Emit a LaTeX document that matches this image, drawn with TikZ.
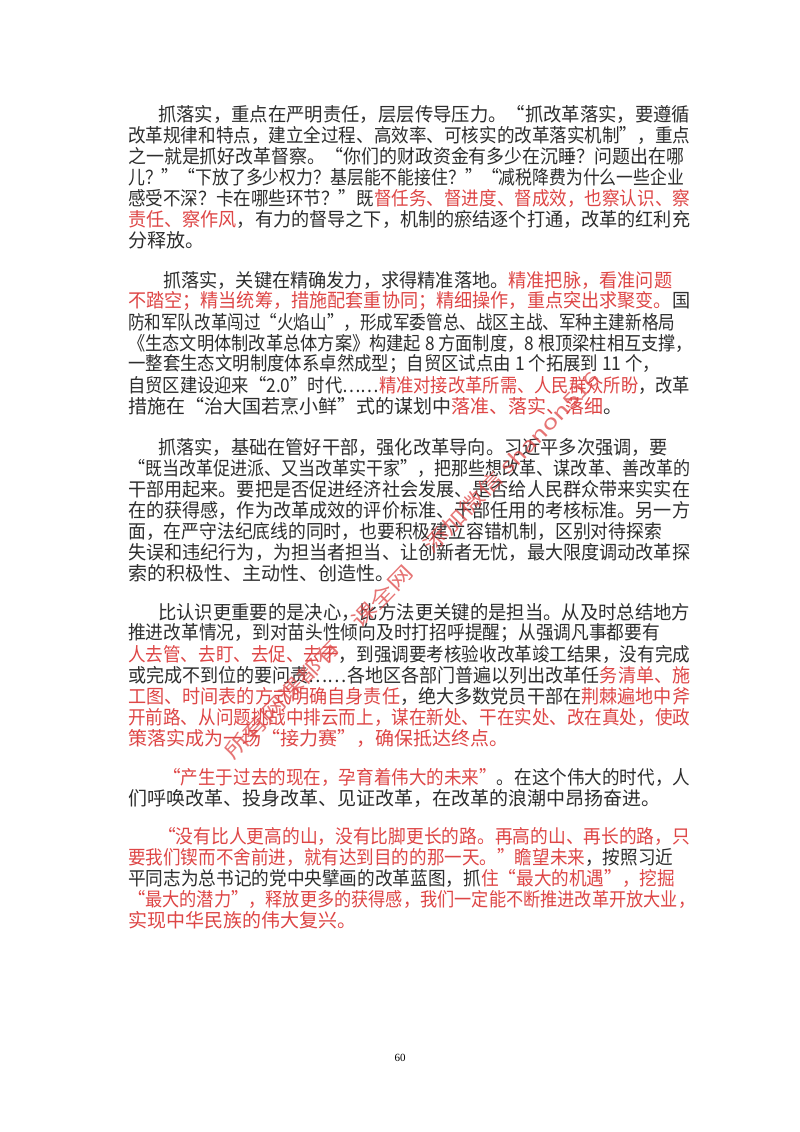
\documentclass[tikz,border=0pt]{standalone}
\usepackage{fontspec}
\usepackage{graphicx}
\setmainfont{Liberation Serif}
\newfontfamily\cjk{Noto Sans CJK SC}
\definecolor{ink}{RGB}{45,45,45}
\definecolor{hl}{RGB}{222,70,70}
\newcommand\rd[1]{\textcolor{hl}{#1}}
% squeeze or stretch one printed line to the width it has on the page
\newcommand\fitto[2]{\resizebox{#1pt}{\height}{#2}}
\tikzset{
  txt/.style={anchor=west,inner sep=0pt,text=ink,font=\cjk\fontsize{19}{19}\selectfont},
  handmark/.style={inner sep=0pt,text=hl,text opacity=0.75,rotate=46,font=\cjk\fontsize{20}{20}\selectfont}
}
\begin{document}
\begin{tikzpicture}[x=1pt,y=-1pt]
  \useasboundingbox[fill=white] (0,0) rectangle (800,1132);
  \def\dy{21}

  % first paragraph
  \node[txt] (a1) at (158,114) {\fitto{532}{抓落实，重点在严明责任，层层传导压力。“抓改革落实，要遵循}};
  \node[txt] (a2) at (128,114+\dy) {\fitto{562}{改革规律和特点，建立全过程、高效率、可核实的改革落实机制”，重点}};
  \node[txt] (a3) at (128,114+2*\dy) {\fitto{556}{之一就是抓好改革督察。“你们的财政资金有多少在沉睡？问题出在哪}};
  \node[txt] (a4) at (128,114+3*\dy) {\fitto{556}{儿？”“下放了多少权力？基层能不能接住？”“减税降费为什么一些企业}};
  \node[txt] (a5) at (128,114+4*\dy) {\fitto{562}{感受不深？卡在哪些环节？”既\rd{督任务、督进度、督成效，也察认识、察}}};
  \node[txt] (a6) at (128,114+5*\dy) {\fitto{562}{\rd{责任、察作风}，有力的督导之下，机制的瘀结逐个打通，改革的红利充}};
  \node[txt] (a7) at (128,114+6*\dy) {分释放。};

  % second paragraph
  \node[txt] (b1) at (163,280) {\fitto{509}{抓落实，关键在精确发力，求得精准落地。\rd{精准把脉，看准问题}}};
  \node[txt] (b2) at (128,280+\dy) {\fitto{562}{\rd{不踏空；精当统筹，措施配套重协同；精细操作，重点突出求聚变。}国}};
  \node[txt] (b3) at (128,280+2*\dy) {\fitto{547}{防和军队改革闯过“火焰山”，形成军委管总、战区主战、军种主建新格局}};
  \node[txt] (b4) at (128,280+3*\dy) {\fitto{565}{《生态文明体制改革总体方案》构建起 8 方面制度，8 根顶梁柱相互支撑，}};
  \node[txt] (b5) at (128,280+4*\dy) {\fitto{532}{一整套生态文明制度体系卓然成型；自贸区试点由 1 个拓展到 11 个，}};
  \node[txt] (b6) at (128,280+5*\dy) {\fitto{562}{自贸区建设迎来“2.0”时代……\rd{精准对接改革所需、人民群众所盼}，改革}};
  \node[txt] (b7) at (128,280+6*\dy) {措施在“治大国若烹小鲜”式的谋划中\rd{落准、落实、落细}。};

  % third paragraph
  \node[txt] (c1) at (158,447) {\fitto{510}{抓落实，基础在管好干部，强化改革导向。习近平多次强调，要}};
  \node[txt] (c2) at (128,447+\dy) {\fitto{562}{“既当改革促进派、又当改革实干家”，把那些想改革、谋改革、善改革的}};
  \node[txt] (c3) at (128,447+2*\dy) {\fitto{562}{干部用起来。要把是否促进经济社会发展、是否给人民群众带来实实在}};
  \node[txt] (c4) at (128,447+3*\dy) {\fitto{562}{在的获得感，作为改革成效的评价标准、干部任用的考核标准。另一方}};
  \node[txt] (c5) at (128,447+4*\dy) {\fitto{534}{面，在严守法纪底线的同时，也要积极建立容错机制，区别对待探索}};
  \node[txt] (c6) at (128,447+5*\dy) {\fitto{562}{失误和违纪行为，为担当者担当、让创新者无忧，最大限度调动改革探}};
  \node[txt] (c7) at (128,447+6*\dy) {索的积极性、主动性、创造性。};

  % fourth paragraph
  \node[txt] (d1) at (158,612) {\fitto{532}{比认识更重要的是决心，比方法更关键的是担当。从及时总结地方}};
  \node[txt] (d2) at (128,612+\dy) {\fitto{532}{推进改革情况，到对苗头性倾向及时打招呼提醒；从强调凡事都要有}};
  \node[txt] (d3) at (128,612+2*\dy) {\fitto{562}{\rd{人去管、去盯、去促、去干}，到强调要考核验收改革竣工结果，没有完成}};
  \node[txt] (d4) at (128,612+3*\dy) {\fitto{562}{或完成不到位的要问责……各地区各部门普遍以列出改革任\rd{务清单、施}}};
  \node[txt] (d5) at (128,612+4*\dy) {\fitto{562}{\rd{工图、时间表的方式明确自身责任}，绝大多数党员干部在\rd{荆棘遍地中斧}}};
  \node[txt] (d6) at (128,612+5*\dy) {\fitto{562}{\rd{开前路、从问题挑战中排云而上，谋在新处、干在实处、改在真处，使政}}};
  \node[txt] (d7) at (128,612+6*\dy) {\rd{策落实成为一场“接力赛”，确保抵达终点。}};

  % fifth paragraph
  \node[txt] (e1) at (163,777) {\fitto{527}{\rd{“产生于过去的现在，孕育着伟大的未来”}。在这个伟大的时代，人}};
  \node[txt] (e2) at (128,777+\dy) {们呼唤改革、投身改革、见证改革，在改革的浪潮中昂扬奋进。};

  % last paragraph
  \node[txt] (f1) at (158,836) {\fitto{532}{\rd{“没有比人更高的山，没有比脚更长的路。再高的山、再长的路，只}}};
  \node[txt] (f2) at (128,836+\dy) {\fitto{545}{\rd{要我们锲而不舍前进，就有达到目的的那一天。”瞻望未来}，按照习近}};
  \node[txt] (f3) at (128,836+2*\dy) {\fitto{547}{平同志为总书记的党中央擘画的改革蓝图，抓\rd{住“最大的机遇”，挖掘}}};
  \node[txt] (f4) at (128,836+3*\dy) {\fitto{567}{\rd{“最大的潜力”，释放更多的获得感，我们一定能不断推进改革开放大业，}}};
  \node[txt] (f5) at (128,836+4*\dy) {\rd{实现中华民族的伟大复兴。}};

  \node[inner sep=0pt,font=\fontsize{11}{11}\selectfont] (page) at (400,1058) {60};

  % handwritten mark across the page
  \node[handmark] (stamp) at (412,565) {\fitto{530}{所有网课都有　课全网　添加微信 shanon516}};
\end{tikzpicture}
\end{document}
